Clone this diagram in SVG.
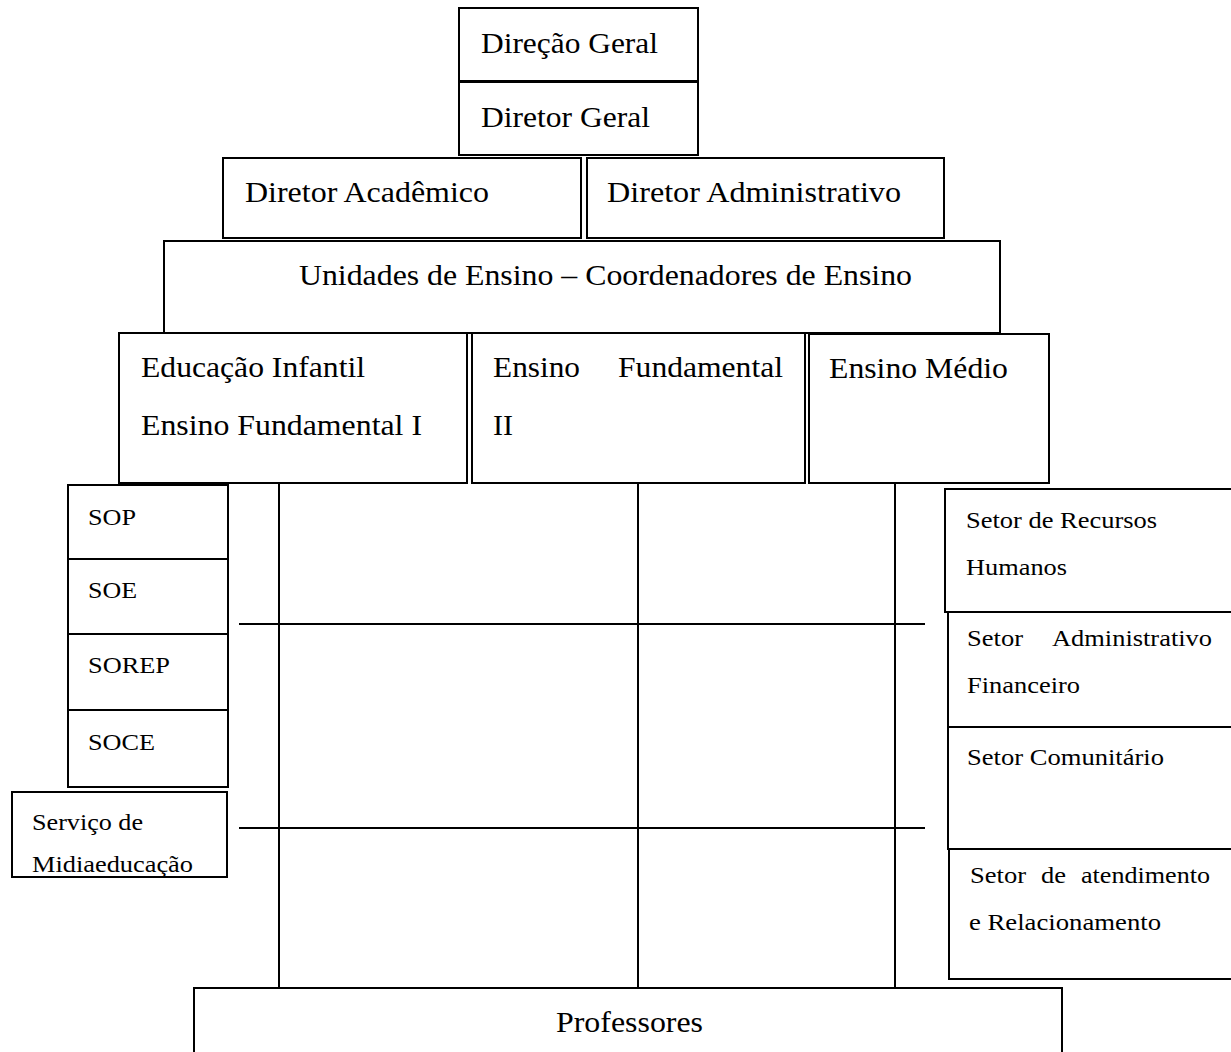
<svg xmlns="http://www.w3.org/2000/svg" width="1231" height="1052" viewBox="0 0 1231 1052">
<style>
rect{fill:#fff;stroke:#000;stroke-width:2}
line{stroke:#000;stroke-width:2}
text{font-family:"Liberation Serif","Times New Roman",serif;fill:#000}
.b{font-size:30px}
.s{font-size:24px}
</style>
<rect x="0" y="0" width="1231" height="1052" style="stroke:none"/>
<g id="connectors">
<line x1="279" y1="484" x2="279" y2="988"/>
<line x1="638" y1="484" x2="638" y2="988"/>
<line x1="895" y1="484" x2="895" y2="988"/>
<line x1="239" y1="624" x2="925" y2="624"/>
<line x1="239" y1="828" x2="925" y2="828"/>
</g>
<g id="direcao-geral"><rect x="459" y="8" width="239" height="73"/><text class="b" x="481" y="53" textLength="177" lengthAdjust="spacingAndGlyphs">Direção Geral</text></g>
<g id="diretor-geral"><rect x="459" y="82" width="239" height="73"/><text class="b" x="481" y="127" textLength="169" lengthAdjust="spacingAndGlyphs">Diretor Geral</text></g>
<g id="diretor-academico"><rect x="223" y="158" width="358" height="80"/><text class="b" x="245" y="202" textLength="244" lengthAdjust="spacingAndGlyphs">Diretor Acadêmico</text></g>
<g id="diretor-administrativo"><rect x="587" y="158" width="357" height="80"/><text class="b" x="607" y="202" textLength="294" lengthAdjust="spacingAndGlyphs">Diretor Administrativo</text></g>
<g id="unidades"><rect x="164" y="241" width="836" height="92"/><text class="b" x="299" y="285" textLength="613" lengthAdjust="spacingAndGlyphs">Unidades de Ensino – Coordenadores de Ensino</text></g>
<g id="educacao-infantil"><rect x="119" y="333" width="348" height="150"/><text class="b" x="141" y="377" textLength="224" lengthAdjust="spacingAndGlyphs">Educação Infantil</text><text class="b" x="141" y="435" textLength="281" lengthAdjust="spacingAndGlyphs">Ensino Fundamental I</text></g>
<g id="fundamental-ii"><rect x="472" y="333" width="333" height="150"/><text class="b" x="493" y="377" textLength="87" lengthAdjust="spacingAndGlyphs">Ensino</text><text class="b" x="618" y="377" textLength="165" lengthAdjust="spacingAndGlyphs">Fundamental</text><text class="b" x="493" y="435">II</text></g>
<g id="ensino-medio"><rect x="809" y="334" width="240" height="149"/><text class="b" x="829" y="378" textLength="179" lengthAdjust="spacingAndGlyphs">Ensino Médio</text></g>
<g id="sop"><rect x="68" y="485" width="160" height="74"/><text class="s" x="88" y="525" textLength="48" lengthAdjust="spacingAndGlyphs">SOP</text></g>
<g id="soe"><rect x="68" y="559" width="160" height="75"/><text class="s" x="88" y="598" textLength="49" lengthAdjust="spacingAndGlyphs">SOE</text></g>
<g id="sorep"><rect x="68" y="634" width="160" height="76"/><text class="s" x="88" y="673" textLength="82" lengthAdjust="spacingAndGlyphs">SOREP</text></g>
<g id="soce"><rect x="68" y="710" width="160" height="77"/><text class="s" x="88" y="750" textLength="67" lengthAdjust="spacingAndGlyphs">SOCE</text></g>
<g id="midiaeducacao"><rect x="12" y="792" width="215" height="85"/><text class="s" x="32" y="830" textLength="111" lengthAdjust="spacingAndGlyphs">Serviço de</text><text class="s" x="32" y="872" textLength="161" lengthAdjust="spacingAndGlyphs">Midiaeducação</text></g>
<g id="setor-rh"><rect x="945" y="489" width="300" height="123"/><text class="s" x="966" y="528" textLength="191" lengthAdjust="spacingAndGlyphs">Setor de Recursos</text><text class="s" x="966" y="575" textLength="101" lengthAdjust="spacingAndGlyphs">Humanos</text></g>
<g id="setor-admin"><rect x="948" y="612" width="300" height="115"/><text class="s" x="967" y="646" textLength="56" lengthAdjust="spacingAndGlyphs">Setor</text><text class="s" x="1052" y="646" textLength="160" lengthAdjust="spacingAndGlyphs">Administrativo</text><text class="s" x="967" y="693" textLength="113" lengthAdjust="spacingAndGlyphs">Financeiro</text></g>
<g id="setor-comunitario"><rect x="948" y="727" width="300" height="122"/><text class="s" x="967" y="765" textLength="197" lengthAdjust="spacingAndGlyphs">Setor Comunitário</text></g>
<g id="setor-atendimento"><rect x="949" y="849" width="300" height="130"/><text class="s" x="970" y="883" textLength="56" lengthAdjust="spacingAndGlyphs">Setor</text><text class="s" x="1041" y="883" textLength="25" lengthAdjust="spacingAndGlyphs">de</text><text class="s" x="1081" y="883" textLength="129" lengthAdjust="spacingAndGlyphs">atendimento</text><text class="s" x="969" y="930" textLength="192" lengthAdjust="spacingAndGlyphs">e Relacionamento</text></g>
<g id="professores"><rect x="194" y="988" width="868" height="100"/><text class="b" x="556" y="1032" textLength="147" lengthAdjust="spacingAndGlyphs">Professores</text></g>
</svg>
